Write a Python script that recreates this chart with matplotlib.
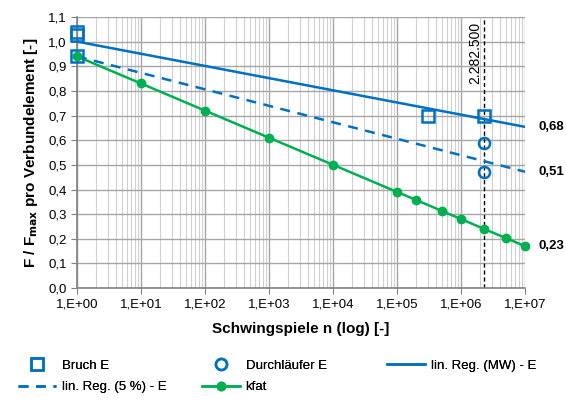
import numpy as np
import matplotlib.pyplot as plt
from matplotlib.ticker import FixedLocator, LogLocator, NullFormatter

plt.rcParams['font.family'] = ['Liberation Sans', 'DejaVu Sans']

# data
bruch_n = [1, 1, 1, 3.0e5, 2.2825e6]
bruch_f = [1.04, 1.025, 0.94, 0.70, 0.70]
durch_n = [2.2825e6, 2.2825e6]
durch_f = [0.59, 0.47]
mw_n = [1, 1e7]
mw_f = [1.0, 0.654]
p5_n = [1, 1e7]
p5_f = [0.94, 0.472]
kfat_n = [1, 1e1, 1e2, 1e3, 1e4, 1e5, 2e5, 5e5, 1e6, 2.2825e6, 5e6, 1e7]
kfat_f = [0.94, 0.83, 0.72, 0.61, 0.50, 0.39, 0.357, 0.313, 0.28, 0.24, 0.203, 0.17]
n_ref = 2282500
end_labels = ['0,68', '0,51', '0,23']
end_y = [0.654, 0.472, 0.17]

blue = '#0070C0'
green = '#00B050'

fig = plt.figure(figsize=(5.66, 4.03), dpi=100)
ax = fig.add_axes([0.136, 0.285, 0.792, 0.673])

l_mw, = ax.plot(mw_n, mw_f, color=blue, lw=1.8, label='lin. Reg. (MW) - E', zorder=3)
l_p5, = ax.plot(p5_n, p5_f, color=blue, lw=1.8, ls=(0, (4, 3)), label='lin. Reg. (5 %) - E',
                zorder=3)
l_kf, = ax.plot(kfat_n, kfat_f, color=green, lw=1.8, marker='o', ms=6, label='kfat', zorder=4,
                clip_on=False)
l_br, = ax.plot(bruch_n, bruch_f, ls='none', marker='s', ms=8, mfc='none', mec=blue, mew=1.8,
                label='Bruch E', zorder=5, clip_on=False)
l_du, = ax.plot(durch_n, durch_f, ls='none', marker='o', ms=8, mfc='none', mec=blue, mew=1.8,
                label='Durchläufer E', zorder=5, clip_on=False)
ax.axvline(n_ref, color='black', lw=1, ls=(0, (3, 2)), zorder=2)
ax.text(n_ref / 1.08, 1.08, '2.282.500', rotation=90, ha='right', va='top', fontsize=10)

ax.set_xscale('log')
ax.set_xlim(1, 1e7)
ax.set_ylim(0, 1.1)
ax.xaxis.set_major_locator(FixedLocator([10.0 ** k for k in range(8)]))
ax.xaxis.set_minor_locator(LogLocator(base=10, subs=np.arange(2, 10), numticks=20))
ax.xaxis.set_minor_formatter(NullFormatter())
ax.set_xticklabels(['1,E+%02d' % k for k in range(8)])
yt = np.round(np.arange(0, 1.11, 0.1), 1)
ax.set_yticks(yt)
ax.set_yticklabels([('%.1f' % v).replace('.', ',') for v in yt])
ax.tick_params(axis='both', labelsize=9.5, color='#808080', length=4)
ax.tick_params(axis='x', which='minor', length=0)

ax.grid(True, which='major', color='#a6a6a6', lw=1)
ax.grid(True, which='minor', axis='x', color='#d0d0d0', lw=0.8)
ax.set_axisbelow(True)
for s in ['top', 'right']:
    ax.spines[s].set_visible(False)
for s in ['left', 'bottom']:
    ax.spines[s].set_color('#808080')
    ax.spines[s].set_linewidth(1.2)

for lab, y in zip(end_labels, end_y):
    ax.text(1.6e7, y, lab, ha='left', va='center', fontsize=9.5, fontweight='bold',
            clip_on=False)

ax.set_xlabel('Schwingspiele n (log) [-]', fontsize=11, fontweight='bold', labelpad=8)
ax.set_ylabel('F / F$_{\\mathbf{max}}$ pro Verbundelement [-]', fontsize=11,
              fontweight='bold', labelpad=6)

# legend: three columns placed by hand
cols = [([l_br, l_p5], 0.032), ([l_du, l_kf], 0.357), ([l_mw], 0.684)]
for handles, x0 in cols:
    leg = fig.legend(handles, [hh.get_label() for hh in handles], loc='upper left',
                     bbox_to_anchor=(x0, 0.108), frameon=False, fontsize=9.5,
                     handlelength=2.9, handletextpad=0.4, labelspacing=0.7,
                     borderpad=0, borderaxespad=0)
    fig.add_artist(leg)

fig.savefig('out.png', dpi=100)
